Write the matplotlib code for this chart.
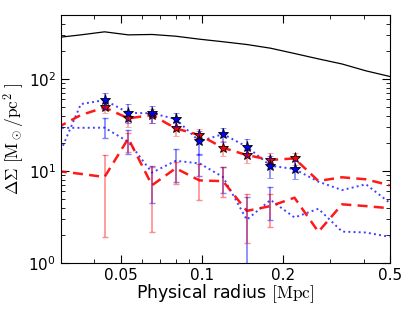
"""
Perfil de lente débil ΔΣ(R): modelo, dos muestras con estrellas y dos sin ellas.
"""

import matplotlib

matplotlib.use("Agg")
import matplotlib.pyplot as plt
from matplotlib.ticker import FixedLocator, FixedFormatter, LogLocator, NullFormatter

plt.rcParams["mathtext.fontset"] = "cm"

# radios de los bins (Mpc)
radius = [0.029, 0.0356, 0.0436, 0.0534, 0.0654, 0.0801, 0.0981, 0.120,
          0.147, 0.180, 0.221, 0.271, 0.332, 0.407, 0.498]

# modelo (línea negra)
model = [283, 303, 327, 303, 306, 293, 272, 255, 238, 217, 190, 166, 146, 123, 107]

# muestras superiores (con estrellas en los bins 2..10)
blue_hi = [13.2, 53.5, 59.1, 43.0, 42.4, 36.8, 21.0, 25.2, 18.4, 11.4, 10.5,
           7.65, 6.2, 7.17, 4.52]
red_hi = [29.5, 40.6, 49.2, 37.4, 40.6, 29.1, 24.6, 17.9, 14.9, 13.2, 13.7,
          7.79, 8.54, 8.12, 6.99]
blue_hi_err = [12.0, 10.0, 9.0, 6.5, 6.0, 4.5, 4.0, 3.0, 2.3]
red_hi_err = [6.5, 7.0, 7.0, 5.0, 4.0, 3.3, 2.8, 2.4, 2.0]

# muestras inferiores (barras en los bins 2..9)
blue_lo = [29.5, 29.5, 29.6, 20.8, 9.6, 12.9, 12.1, 8.6, 2.95, 4.84, 3.12,
           3.88, 2.19, 2.14, 1.92]
red_lo = [10.0, 9.3, 8.6, 22.6, 7.0, 10.7, 7.9, 7.75, 3.68, 4.15, 5.12,
          2.18, 4.34, 4.15, 3.93]
blue_lo_top = [37.4, 27.9, 11.4, 17.2, 15.5, 11.1, 5.18, 6.75]
blue_lo_bot = [22.7, 15.3, 4.46, 7.65, 8.8, 5.72, 0.5, 2.93]
red_lo_top = [15.0, 26.0, 11.1, 12.5, 12.0, 11.1, 5.62, 5.62]
red_lo_bot = [1.93, 16.0, 2.17, 7.2, 4.84, 5.18, 1.64, 2.44]

xticks = [0.05, 0.1, 0.2, 0.5]
xtick_labels = ["0.05", "0.1", "0.2", "0.5"]


def main():
    fig = plt.figure(figsize=(4.11, 3.10), dpi=100)
    ax = fig.add_axes([0.148, 0.152, 0.801, 0.800])
    ax.set_xscale("log")
    ax.set_yscale("log")

    ax.plot(radius, model, "k-", lw=0.9)

    ax.plot(radius, blue_hi, color="b", ls=":", lw=1.4, alpha=0.75)
    ax.plot(radius, red_hi, color="r", ls="--", lw=1.8, dashes=(4, 2.5), alpha=0.9)
    ax.plot(radius, blue_lo, color="b", ls=":", lw=1.4, alpha=0.75)
    ax.plot(radius, red_lo, color="r", ls="--", lw=1.8, dashes=(4, 2.5), alpha=0.9)

    # barras de las muestras inferiores
    rb = radius[2:10]
    ax.errorbar(rb, blue_lo[2:10],
                yerr=[[c - b for c, b in zip(blue_lo[2:10], blue_lo_bot)],
                      [t - c for c, t in zip(blue_lo[2:10], blue_lo_top)]],
                fmt="none", ecolor=(0, 0, 1, 0.5), elinewidth=1.2, capsize=2.5)
    ax.errorbar(rb, red_lo[2:10],
                yerr=[[c - b for c, b in zip(red_lo[2:10], red_lo_bot)],
                      [t - c for c, t in zip(red_lo[2:10], red_lo_top)]],
                fmt="none", ecolor=(1, 0, 0, 0.45), elinewidth=1.2, capsize=2.5)

    # estrellas con barras
    rs = radius[2:11]
    ax.errorbar(rs, red_hi[2:11], yerr=red_hi_err, fmt="*", color="r",
                ecolor=(1, 0, 0, 0.4), mec="k", mew=0.6, ms=8,
                elinewidth=1.2, capsize=2.5, zorder=5)
    ax.errorbar(rs, blue_hi[2:11], yerr=blue_hi_err, fmt="*", color="b",
                ecolor=(0, 0, 1, 0.5), mec="k", mew=0.6, ms=8,
                elinewidth=1.2, capsize=2.5, zorder=6)

    ax.set_xlim(0.03, 0.5)
    ax.set_ylim(1, 500)

    ax.xaxis.set_major_locator(FixedLocator(xticks))
    ax.xaxis.set_major_formatter(FixedFormatter(xtick_labels))
    ax.xaxis.set_minor_locator(LogLocator(base=10, subs=range(2, 10)))
    ax.xaxis.set_minor_formatter(NullFormatter())

    ax.tick_params(which="both", direction="in", top=True, right=True,
                   labelsize=11)
    ax.tick_params(which="major", length=6)
    ax.tick_params(which="minor", length=3)

    ax.set_xlabel(r"Physical radius $[\mathrm{Mpc}]$", fontsize=12.5, labelpad=0)
    ax.set_ylabel(r"$\Delta\Sigma\ [\mathrm{M}_\odot/\mathrm{pc}^2\ ]$",
                  fontsize=12.5, labelpad=1)

    fig.savefig("out.png", dpi=100)
    plt.close(fig)


if __name__ == "__main__":
    main()
